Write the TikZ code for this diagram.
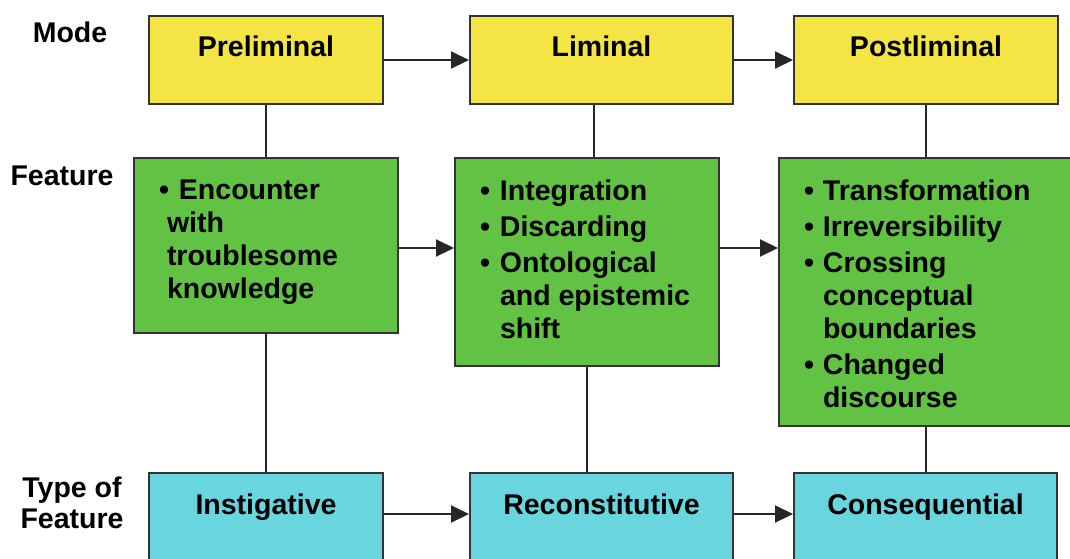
\documentclass[tikz,border=0pt]{standalone}
\usepackage{fontspec}
\setmainfont{Liberation Sans}
\usetikzlibrary{arrows.meta}

\definecolor{modeyellow}{HTML}{F4E545}
\definecolor{featgreen}{HTML}{62C243}
\definecolor{typecyan}{HTML}{68D5DF}
\definecolor{edgegray}{HTML}{333333}

\newlength\bulw
\newlength\hangw
\newcommand\featitem[1]{\par\hangindent=\hangw\hangafter=1\noindent\makebox[\bulw][l]{\textbullet}#1}
\newcommand\featlist[5]{\parbox[t][#1][t]{#2}{\fontsize{28.5}{33}\selectfont\bfseries\raggedright
  \leftskip=25pt\parskip=3pt\setlength\bulw{#3}\setlength\hangw{#4}\vspace*{19pt}#5}}

\begin{document}
\begin{tikzpicture}[x=1pt,y=-1pt,
  lab/.style={font=\fontsize{28.5}{31}\selectfont\bfseries,inner sep=0pt},
  modebox/.style={draw=edgegray,line width=2pt,fill=modeyellow,inner sep=0pt,
    text height=40pt,text depth=48pt,font=\fontsize{28.5}{33}\selectfont\bfseries},
  featbox/.style={draw=edgegray,line width=2pt,fill=featgreen,inner sep=0pt},
  typebox/.style={modebox,fill=typecyan,text height=41pt,text depth=47pt},
  conn/.style={line width=2pt,draw=black!85},
  arr/.style={conn,-{Triangle[length=18pt,width=17pt]}}]
\useasboundingbox (0,0) rectangle (1070,558);
\clip (0,0) rectangle (1070,558);
\fill[white] (0,0) rectangle (1070,558);

\node[lab,anchor=base] (mode) at (70,42) {Mode};
\node[lab,anchor=base] (feature) at (62,185) {Feature};
\node[lab,anchor=base,align=center] (type) at (72,528) {Type of\\Feature};

\node[modebox,minimum width=234pt,anchor=north west] (prelim) at (148,15) {Preliminal};
\node[modebox,minimum width=263pt,anchor=north west] (lim) at (469,15) {Liminal};
\node[modebox,minimum width=264pt,anchor=north west] (post) at (793,15) {Postliminal};

\node[featbox,anchor=north west] (encounter) at (133,157)
  {\featlist{175pt}{264pt}{20pt}{8pt}{\featitem{Encounter\newline with\newline troublesome\newline knowledge}}};
\node[featbox,anchor=north west] (integ) at (454,157)
  {\featlist{208pt}{264pt}{20pt}{20pt}{\featitem{Integration}\featitem{Discarding}\featitem{Ontological\newline and epistemic\newline shift}}};
\node[featbox,anchor=north west] (transf) at (778,157)
  {\featlist{268pt}{300pt}{19pt}{19pt}{\featitem{Transformation}\featitem{Irreversibility}\featitem{Crossing\newline conceptual\newline boundaries}\featitem{Changed\newline discourse}}};

\node[typebox,minimum width=234pt,anchor=north west] (inst) at (148,472) {Instigative};
\node[typebox,minimum width=263pt,anchor=north west] (recon) at (469,472) {Reconstitutive};
\node[typebox,minimum width=263pt,anchor=north west] (cons) at (793,472) {Consequential};

\coordinate (featmid) at (0,248);

\draw[conn] (prelim.south) -- (encounter.north);
\draw[conn] (encounter.south) -- (inst.north);
\draw[conn] ([xshift=-8pt]lim.south) -- ([xshift=-8pt]lim.south |- integ.north);
\draw[conn] (integ.south) -- (integ.south |- recon.north);
\draw[conn] (post.south) -- (post.south |- transf.north);
\draw[conn] (cons.north |- transf.south) -- (cons.north);

\draw[arr] (prelim.east) -- (lim.west);
\draw[arr] (lim.east) -- (post.west);
\draw[arr] (encounter.east |- featmid) -- (integ.west |- featmid);
\draw[arr] (integ.east |- featmid) -- (transf.west |- featmid);
\draw[arr] (inst.base east) -- (recon.base west);
\draw[arr] (recon.base east) -- (cons.base west);

\end{tikzpicture}
\end{document}
